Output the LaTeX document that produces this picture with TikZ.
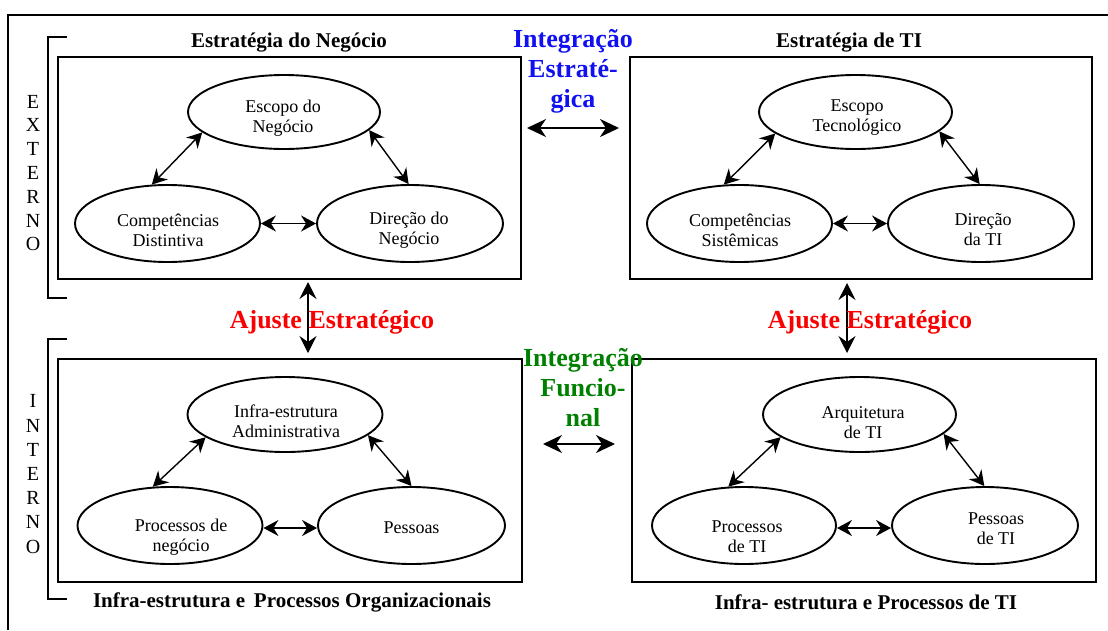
\documentclass[tikz,border=0pt]{standalone}
\usepackage{fontspec}
\setmainfont{Liberation Serif}
\usetikzlibrary{arrows.meta,shapes.geometric}
\definecolor{iblue}{RGB}{16,16,240}
\definecolor{ired}{RGB}{250,0,0}
\definecolor{igreen}{RGB}{0,128,0}
\begin{document}
\begin{tikzpicture}[x=1pt,y=-1pt,
  ell/.style={draw, ellipse, line width=1.9pt, inner sep=0pt},
  etext/.style={align=center, font=\fontsize{18}{20}\selectfont, inner sep=0pt},
  panel/.style={draw, rectangle, line width=2pt, inner sep=0pt},
  ttl/.style={font=\bfseries\fontsize{21}{24}\selectfont, inner sep=0pt},
  bigtxt/.style={font=\bfseries\fontsize{26}{30}\selectfont, align=center, inner sep=0pt},
  side/.style={font=\fontsize{20}{23.8}\selectfont, align=center, inner sep=0pt},
  dbl/.style={{Stealth[length=15pt,width=16pt,inset=5pt]}-{Stealth[length=15pt,width=16pt,inset=5pt]}, line width=1.4pt},
  bigdbl/.style={{Stealth[length=19pt,width=18pt,inset=6pt]}-{Stealth[length=19pt,width=18pt,inset=6pt]}, line width=1.6pt},
  vdbl/.style={{Stealth[length=17pt,width=17pt,inset=6pt]}-{Stealth[length=17pt,width=17pt,inset=6pt]}, line width=1.3pt},
  frame/.style={line width=1.5pt}
]
\useasboundingbox (0,0) rectangle (1108,630);

% outer frame (top and left only)
\draw[frame] (8,630) -- (8,15) -- (1108,15);

% brackets
\draw[frame] (67,37) -- (48,37) -- (48,298) -- (67,298);
\draw[frame] (67,339) -- (48,339) -- (48,599) -- (67,599);

\node[side] (ext) at (33,173) {E\\X\\T\\E\\R\\N\\O};
\node[side, font=\fontsize{20}{24.2}\selectfont] (int) at (33,474) {I\\N\\T\\E\\R\\N\\O};

% panels
\node[panel, minimum width=463pt, minimum height=222pt] (B1) at (289.5,168) {};
\node[panel, minimum width=462pt, minimum height=222pt] (B2) at (861,168) {};
\node[panel, minimum width=464pt, minimum height=223pt] (B3) at (290,470.5) {};
\node[panel, minimum width=464pt, minimum height=223pt] (B4) at (864,470.5) {};

% titles
\node[ttl] (T1) at (289,43) {Estratégia do Negócio};
\node[ttl] (T2) at (849,43) {Estratégia de TI};
\node[ttl] (T3) at (292,602) {Infra-estrutura e\, Processos Organizacionais};
\node[ttl] (T4) at (866,602) {Infra- estrutura e Processos de TI};

% panel 1
\node[ell, minimum width=192pt, minimum height=74pt] (E1) at (284,112) {};
\node[ell, minimum width=185pt, minimum height=77pt] (C1) at (167.5,223.5) {};
\node[ell, minimum width=186pt, minimum height=77pt] (D1) at (410,223.5) {};
\node[etext] (tE1) at (283,118) {Escopo do\\Negócio};
\node[etext] (tC1) at (168,230) {Competências\\Distintiva};
\node[etext] (tD1) at (409,230) {Direção do\\Negócio};
\draw[dbl] (E1.194) -- (C1.112);
\draw[dbl] (E1.348) -- (D1.92);
\draw[dbl] (C1.east) -- (D1.west);

% panel 2
\node[ell, minimum width=193pt, minimum height=74pt] (E2) at (855.5,112) {};
\node[ell, minimum width=185pt, minimum height=77pt] (C2) at (739.5,223.5) {};
\node[ell, minimum width=186pt, minimum height=77pt] (D2) at (981,223.5) {};
\node[etext] (tE2) at (857,118) {Escopo\\Tecnológico};
\node[etext] (tC2) at (740,230) {Competências\\Sistêmicas};
\node[etext] (tD2) at (983,230) {Direção\\da TI};
\draw[dbl] (E2.195) -- (C2.112);
\draw[dbl] (E2.347) -- (D2.92);
\draw[dbl] (C2.east) -- (D2.west);

% panel 3
\node[ell, minimum width=195pt, minimum height=75pt] (A3) at (285,414.5) {};
\node[ell, minimum width=185pt, minimum height=77pt] (P3) at (170,525.5) {};
\node[ell, minimum width=187pt, minimum height=77pt] (S3) at (411.5,525.5) {};
\node[etext] (tA3) at (286,421) {Infra-estrutura\\Administrativa};
\node[etext] (tP3) at (181,537) {Processos de\\negócio};
\node[etext] (tS3) at (411.5,528) {Pessoas};
\draw[dbl] (A3.196) -- (P3.114);
\draw[dbl] (A3.346) -- (S3.90);
\draw[dbl] ([yshift=-2.5pt]P3.east) -- ([yshift=-2.5pt]S3.west);

% panel 4
\node[ell, minimum width=193pt, minimum height=75pt] (A4) at (859.5,414.5) {};
\node[ell, minimum width=184pt, minimum height=77pt] (P4) at (744,525.5) {};
\node[ell, minimum width=186pt, minimum height=77pt] (S4) at (985,525.5) {};
\node[etext] (tA4) at (863,423) {Arquitetura\\de TI};
\node[etext] (tP4) at (747,537) {Processos\\de TI};
\node[etext] (tS4) at (996,529) {Pessoas\\de TI};
\draw[dbl] (A4.196) -- (P4.112);
\draw[dbl] (A4.347) -- (S4.91);
\draw[dbl] ([yshift=-2.5pt]P4.east) -- ([yshift=-2.5pt]S4.west);

% connectors between panels
\draw[bigdbl, shorten <=5pt, shorten >=10pt] ([yshift=40pt]B1.east) -- ([yshift=40pt]B2.west);
\draw[bigdbl, shorten <=20pt, shorten >=16pt] ([yshift=26.5pt]B3.east) -- ([yshift=26.5pt]B4.west);
\draw[vdbl, shorten <=2pt, shorten >=5pt] ([xshift=18.5pt]B1.south) -- ([xshift=18pt]B3.north);
\draw[vdbl, shorten <=3pt, shorten >=5pt] ([xshift=-14pt]B2.south) -- ([xshift=-17pt]B4.north);

% coloured labels
\node[bigtxt, text=iblue] (IE) at (573,71) {Integração\\Estraté-\\gica};
\node[bigtxt, text=igreen] (IF) at (583,388) {Integração\\Funcio-\\nal};
\node[bigtxt, text=ired] (AE1) at (332,322) {Ajuste Estratégico};
\node[bigtxt, text=ired] (AE2) at (870,322) {Ajuste Estratégico};
\end{tikzpicture}
\end{document}
